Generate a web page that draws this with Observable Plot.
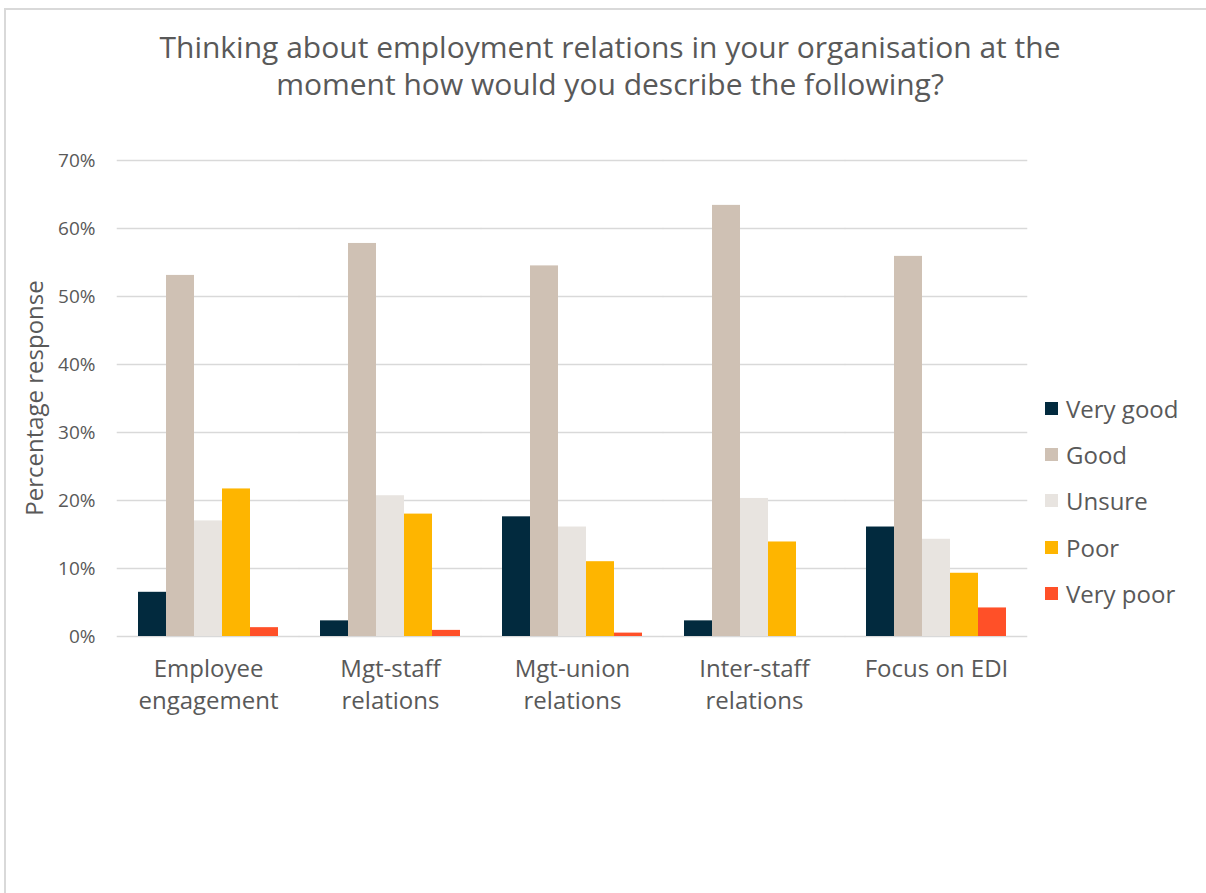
<!DOCTYPE html>
<html>
<head>
<meta charset="utf-8">
<script src="https://cdn.jsdelivr.net/npm/d3@7"></script>
<script src="https://cdn.jsdelivr.net/npm/@observablehq/plot@0.6"></script>
<style>
  html, body { margin: 0; padding: 0; background: #fff; }
  #wrap { position: relative; width: 1206px; height: 893px; overflow: hidden; font-family: "Open Sans", sans-serif; color: #595959; }
  #frame { position: absolute; left: 4px; top: 8px; width: 1210px; height: 900px; border-top: 2px solid #d9d9d9; border-left: 2px solid #d9d9d9; }
  .tl { position: absolute; left: 0; width: 1220px; text-align: center; font-size: 30px; line-height: 34px; height: 34px; color: #595959; white-space: nowrap; }
  #chart { position: absolute; left: 0; top: 130px; }
  #ylabel { position: absolute; left: 33px; top: 398px; transform: translate(-50%, -50%) rotate(-90deg); font-size: 24px; white-space: nowrap; color: #595959; }
  #legend { position: absolute; left: 1045px; top: 385px; }
  .li { display: flex; align-items: center; height: 46.3px; font-size: 24px; color: #595959; }
  .sw { width: 13px; height: 13px; margin-right: 8px; }
</style>
</head>
<body>
<div id="wrap">
  <div id="frame"></div>
  <div class="tl" style="top:30px">Thinking about employment relations in your organisation at the</div>
  <div class="tl" style="top:67px">moment how would you describe the following?</div>
  <div id="chart"></div>
  <div id="ylabel">Percentage response</div>
  <div id="legend"></div>
</div>
<script>
const categories = ["Employee engagement", "Mgt-staff relations", "Mgt-union relations", "Inter-staff relations", "Focus on EDI"];
const categoryLabels = ["Employee\nengagement", "Mgt-staff\nrelations", "Mgt-union\nrelations", "Inter-staff\nrelations", "Focus on EDI"];
const series = ["Very good", "Good", "Unsure", "Poor", "Very poor"];
const colors = ["#022a3e", "#cfc1b4", "#e8e4e0", "#feb500", "#ff5028"];
const veryGood = [6.5, 2.3, 17.6, 2.3, 16.1];
const good     = [53.1, 57.8, 54.5, 63.4, 55.9];
const unsure   = [17.0, 20.7, 16.1, 20.3, 14.3];
const poor     = [21.7, 18.0, 11.0, 13.9, 9.3];
const veryPoor = [1.3, 0.9, 0.5, 0, 4.2];
const yTicks = [0, 10, 20, 30, 40, 50, 60, 70];

const seriesValues = [veryGood, good, unsure, poor, veryPoor];
const data = [];
categories.forEach((c, i) => series.forEach((s, j) => data.push({category: c, series: s, value: seriesValues[j][i]})));
const labelOf = Object.fromEntries(categories.map((c, i) => [c, categoryLabels[i]]));

const W = 1040, mL = 115, mR = 12;
const pIn = 0.233, pOut = pIn / 2;
const step = (W - mL - mR) / (categories.length - pIn + 2 * pOut);
const halfGap = step * pIn / 2;

const chart = Plot.plot({
  width: W,
  height: 596,
  marginLeft: mL,
  marginRight: mR,
  marginTop: 30,
  marginBottom: 90,
  style: {fontFamily: "'Open Sans', sans-serif", color: "#595959", background: "transparent"},
  fx: {domain: categories, paddingInner: pIn, paddingOuter: pOut, label: null},
  x: {domain: series, padding: 0, axis: null},
  y: {domain: [0, 70], label: null},
  color: {domain: series, range: colors},
  marks: [
    Plot.ruleY(yTicks, {stroke: "#d9d9d9", strokeWidth: 1.5, insetLeft: -halfGap, insetRight: -halfGap}),
    Plot.barY(data, {fx: "category", x: "series", y: "value", fill: "series"}),
    Plot.axisY({ticks: yTicks, tickFormat: d => d + "%", tickSize: 0, tickPadding: 43, fontSize: 19, label: null, anchor: "left"}),
    Plot.axisFx({anchor: "bottom", tickSize: 0, tickPadding: 18, fontSize: 24, lineHeight: 1.33, tickFormat: d => labelOf[d], label: null})
  ]
});
document.getElementById("chart").appendChild(chart);

const legend = document.getElementById("legend");
series.forEach((s, i) => {
  const row = document.createElement("div");
  row.className = "li";
  const sw = document.createElement("div");
  sw.className = "sw";
  sw.style.background = colors[i];
  const t = document.createElement("span");
  t.textContent = s;
  row.appendChild(sw); row.appendChild(t);
  legend.appendChild(row);
});
</script>
</body>
</html>
